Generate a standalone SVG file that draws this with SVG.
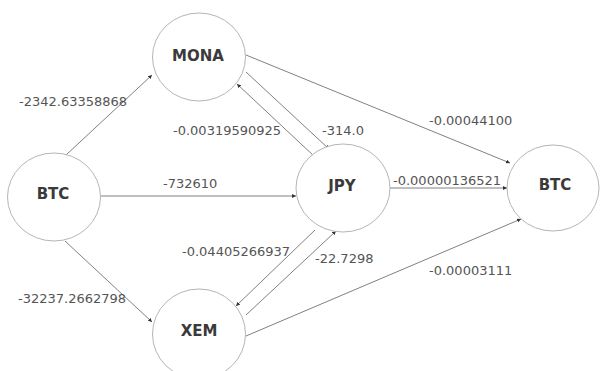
<svg xmlns="http://www.w3.org/2000/svg" width="600" height="371" viewBox="0 0 600 371">
<style>
.node ellipse{fill:#fff;stroke:#b5b5b5;stroke-width:1}
.node text{font-family:"DejaVu Sans",sans-serif;font-weight:bold;font-size:15px;fill:#3a3a3a;text-anchor:middle}
.edges line{stroke:#808080;stroke-width:1;marker-end:url(#arr)}
.lbl{font-family:"DejaVu Sans",sans-serif;font-size:13px;fill:#555}
</style>
<defs>
<marker id="arr" viewBox="0 0 6 6" refX="6" refY="3" markerWidth="4" markerHeight="4" orient="auto" markerUnits="strokeWidth">
<path d="M0,0 L6,3 L0,6 z" fill="#333"/>
</marker>
</defs>
<rect width="600" height="371" fill="#fff"/>
<g class="edges">
<line x1="66" y1="155" x2="152" y2="75"/>
<line x1="101" y1="196" x2="296" y2="196"/>
<line x1="65" y1="241" x2="152" y2="322"/>
<line x1="246" y1="55" x2="510" y2="163"/>
<line x1="246" y1="72" x2="329" y2="149"/>
<line x1="315" y1="157" x2="237" y2="84"/>
<line x1="390" y1="188" x2="507" y2="188"/>
<line x1="246" y1="315" x2="336" y2="231"/>
<line x1="315" y1="230" x2="236" y2="306"/>
<line x1="246" y1="336" x2="521" y2="219"/>
</g>
<g id="mona" class="node"><ellipse cx="199" cy="57" rx="46.5" ry="44"/><text x="198" y="61">MONA</text></g>
<g id="btc-left" class="node"><ellipse cx="54" cy="197" rx="46.5" ry="44"/><text x="53" y="199">BTC</text></g>
<g id="jpy" class="node"><ellipse cx="343" cy="188" rx="47" ry="44"/><text x="342" y="191">JPY</text></g>
<g id="btc-right" class="node"><ellipse cx="553" cy="188" rx="46" ry="43"/><text x="555" y="190">BTC</text></g>
<g id="xem" class="node"><ellipse cx="199" cy="334" rx="46.5" ry="45"/><text x="199" y="336">XEM</text></g>
<g id="labels">
<text class="lbl" x="19" y="106">-2342.63358868</text>
<text class="lbl" x="173" y="135">-0.00319590925</text>
<text class="lbl" x="163" y="188">-732610</text>
<text class="lbl" x="322" y="135">-314.0</text>
<text class="lbl" x="429" y="125">-0.00044100</text>
<text class="lbl" x="393" y="185">-0.00000136521</text>
<text class="lbl" x="182" y="256">-0.04405266937</text>
<text class="lbl" x="18" y="303">-32237.2662798</text>
<text class="lbl" x="315" y="263">-22.7298</text>
<text class="lbl" x="429" y="275">-0.00003111</text>
</g>
</svg>
